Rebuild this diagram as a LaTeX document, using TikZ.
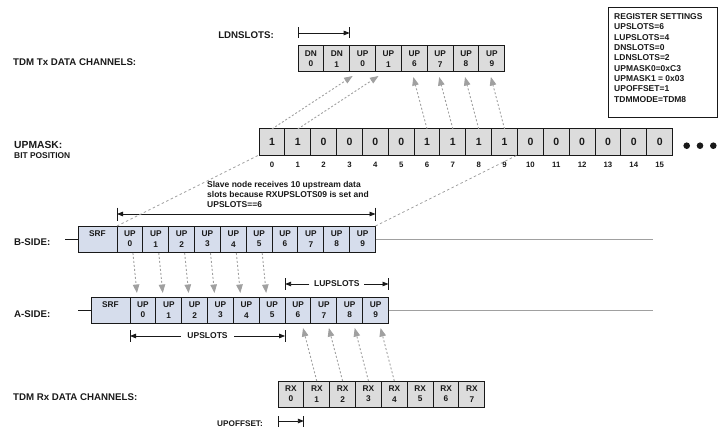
\documentclass[tikz,border=0pt]{standalone}
\usepackage{fontspec}
\setmainfont{Liberation Sans}
\usetikzlibrary{arrows.meta,calc}
\definecolor{boxgray}{RGB}{220,220,220}
\definecolor{boxblue}{RGB}{214,221,236}
\definecolor{dgray}{RGB}{160,160,160}
\definecolor{lgray}{RGB}{160,160,160}
\definecolor{ink}{RGB}{25,25,25}
\begin{document}
\begin{tikzpicture}[x=1pt,y=-1pt,
  cell/.style={draw=ink,line width=1pt,minimum width=25.85pt,minimum height=26pt,inner sep=0pt,outer sep=0pt,align=center,font=\fontsize{8.3}{10.3}\selectfont\bfseries,text=ink},
  graycell/.style={cell,fill=boxgray},
  bluecell/.style={cell,fill=boxblue},
  bitcell/.style={cell,fill=boxgray,font=\fontsize{10.5}{12}\selectfont\bfseries},
  lbl/.style={font=\fontsize{9.7}{11}\selectfont\bfseries,text=ink,inner sep=0pt},
  small/.style={font=\fontsize{8.5}{10.33}\selectfont\bfseries,text=ink,inner sep=0pt},
  bitnum/.style={font=\fontsize{7.8}{8}\selectfont\bfseries,text=ink,inner sep=0pt},
  dasharrow/.style={draw=dgray,line width=0.9pt,dash pattern=on 2pt off 2pt,-{Triangle[length=8.5pt,width=6.5pt]}},
  dashline/.style={draw=dgray,line width=0.8pt,dash pattern=on 2.5pt off 2.5pt},
  dimline/.style={draw=ink,line width=0.8pt},
  dimarrow/.style={dimline,-{Triangle[length=6pt,width=4.5pt]}},
  dimboth/.style={dimline,{Triangle[length=6pt,width=4.5pt]}-{Triangle[length=6pt,width=4.5pt]}},
  dimbar/.style={draw=ink,line width=1pt},
  sideline/.style={draw=lgray,line width=1pt},
  stubline/.style={draw=ink,line width=0.9pt},
]
\useasboundingbox (0,0) rectangle (725,433);

% ---------- TDM Tx row ----------
\foreach \a/\b [count=\i from 0] in {DN/0,DN/1,UP/0,UP/1,UP/6,UP/7,UP/8,UP/9}
  \node[graycell] (tx\i) at ({298+25.85*(\i+0.5)},59) {\a\\\b};

% ---------- UPMASK row ----------
\foreach \v [count=\i from 0] in {1,1,0,0,0,0,1,1,1,1,0,0,0,0,0,0} {
  \node[bitcell] (m\i) at ({259+25.85*(\i+0.5)},142) {\v};
  \node[bitnum] (bp\i) at ({259+25.85*(\i+0.5)},165) {\i};
}
\fill[ink] (686.7,145.7) circle (3.3);
\fill[ink] (700,145.7) circle (3.3);
\fill[ink] (713.3,145.7) circle (3.3);

% ---------- B-side row ----------
\node[bluecell,minimum width=39pt] (bsrf) at (97.5,239) {SRF\\\phantom{0}};
\foreach \i in {0,...,9}
  \node[bluecell] (b\i) at ({117+25.85*(\i+0.5)},239) {UP\\\i};

% ---------- A-side row ----------
\node[bluecell,minimum width=39pt] (asrf) at (110.5,310) {SRF\\\phantom{0}};
\foreach \i in {0,...,9}
  \node[bluecell] (a\i) at ({130+25.85*(\i+0.5)},310) {UP\\\i};

% ---------- TDM Rx row ----------
\foreach \i in {0,...,7}
  \node[graycell] (rx\i) at ({278+25.85*(\i+0.5)},394) {RX\\\i};

% ---------- side lines ----------
\coordinate (bstart) at (65,239);
\coordinate (bend) at (653,239);
\coordinate (astart) at (78,310);
\coordinate (aend) at (653,310);
\draw[stubline] (bstart) -- (bsrf.west);
\draw[sideline] (b9.east) -- (bend);
\draw[stubline] (astart) -- (asrf.west);
\draw[sideline] (a9.east) -- (aend);

% ---------- left labels ----------
\node[lbl,anchor=west] (txlbl) at (13,62) {TDM Tx DATA CHANNELS:};
\node[lbl,anchor=east] (ldnlbl) at (274,35.5) {LDNSLOTS:};
\node[lbl,anchor=west,font=\fontsize{10.3}{12}\selectfont\bfseries] (umlbl) at (14,145) {UPMASK:};
\node[lbl,anchor=west,font=\fontsize{8.4}{10}\selectfont\bfseries] (bplbl) at (14,156) {BIT POSITION};
\node[lbl,anchor=west] (bslbl) at (14,242.5) {B-SIDE:};
\node[lbl,anchor=west] (aslbl) at (14,314) {A-SIDE:};
\node[lbl,anchor=west] (rxlbl) at (13,397) {TDM Rx DATA CHANNELS:};
\node[small,anchor=east,font=\fontsize{8.2}{9}\selectfont\bfseries] (uolbl) at (263,423.5) {UPOFFSET:};

% ---------- register box ----------
\node[draw=ink,line width=1.2pt,anchor=north west,minimum width=109pt,minimum height=110pt,inner sep=0pt] (reg) at (608,7) {};
\node[small,anchor=north west,align=left] (regtxt) at (614,13.5) {REGISTER SETTINGS\\UPSLOTS=6\\LUPSLOTS=4\\DNSLOTS=0\\LDNSLOTS=2\\UPMASK0=0xC3\\UPMASK1 = 0x03\\UPOFFSET=1\\TDMMODE=TDM8};

% ---------- slave note ----------
\node[small,anchor=north west,align=left,font=\fontsize{8.5}{10.2}\selectfont\bfseries] (slave) at (207,181) {Slave node receives 10 upstream data\\slots because RXUPSLOTS09 is set and\\UPSLOTS==6};

% ---------- dimension: LDNSLOTS ----------
\coordinate (ld1) at ($(tx0.north west)+(0,-13)$);
\coordinate (ld2) at ($(tx1.north east)+(0,-13)$);
\draw[dimbar] ($(ld1)+(0,-5.5)$) -- ($(ld1)+(0,5.5)$);
\draw[dimbar] ($(ld2)+(0,-5.5)$) -- ($(ld2)+(0,5.5)$);
\draw[dimarrow] (ld1) -- (ld2);

% ---------- dimension: slave span ----------
\coordinate (sv1) at ($(b0.north west)+(0,-12)$);
\coordinate (sv2) at ($(b9.north east)+(0,-12)$);
\draw[dimbar] ($(sv1)+(0,-6.5)$) -- ($(sv1)+(0,6.5)$);
\draw[dimbar] ($(sv2)+(0,-6.5)$) -- ($(sv2)+(0,6.5)$);
\draw[dimboth] (sv1) -- (sv2);

% ---------- dimension: LUPSLOTS ----------
\coordinate (lu1) at ($(a6.north west)+(0,-13)$);
\coordinate (lu2) at ($(a9.north east)+(0,-13)$);
\draw[dimbar] ($(lu1)+(0,-6)$) -- ($(lu1)+(0,6)$);
\draw[dimbar] ($(lu2)+(0,-6)$) -- ($(lu2)+(0,6)$);
\node[small,inner xsep=4.5pt] (lulbl) at ($(lu1)!0.5!(lu2)$) {LUPSLOTS};
\draw[dimarrow] (lulbl.west) -- (lu1);
\draw[dimarrow] (lulbl.east) -- (lu2);

% ---------- dimension: UPSLOTS ----------
\coordinate (us1) at ($(a0.south west)+(0,13)$);
\coordinate (us2) at ($(a6.south west)+(0,13)$);
\draw[dimbar] ($(us1)+(0,-6)$) -- ($(us1)+(0,6)$);
\draw[dimbar] ($(us2)+(0,-6)$) -- ($(us2)+(0,6)$);
\node[small,inner xsep=6.5pt] (uslbl) at ($(us1)!0.5!(us2)$) {UPSLOTS};
\draw[dimarrow] (uslbl.west) -- (us1);
\draw[dimarrow] (uslbl.east) -- (us2);

% ---------- dimension: UPOFFSET ----------
\coordinate (uo1) at ($(rx0.south west)+(0,14)$);
\coordinate (uo2) at ($(rx1.south west)+(0,14)$);
\draw[dimbar] ($(uo1)+(0,-5)$) -- ($(uo1)+(0,6)$);
\draw[dimbar] ($(uo2)+(0,-5)$) -- ($(uo2)+(0,6)$);
\draw[dimarrow] (uo1) -- (uo2);

% ---------- dashed connectors ----------
\draw[dasharrow] (m0.north) -- ($(tx2.south)+(-10,4)$);
\draw[dasharrow] (m1.north) -- ($(tx3.south)+(-10,4)$);
\foreach \i [evaluate=\i as \j using int(\i-2)] in {6,7,8,9}
  \draw[dasharrow] (m\i.north) -- ($(tx\j.south)+(-1,5)$);

\draw[dashline] (b0.north west) -- (m0.south west);
\draw[dashline] (b9.north east) -- (m9.south east);

\foreach \i in {0,...,5}
  \draw[dasharrow] ($(b\i.south)+(3,1)$) -- ($(a\i.north)+(-6,-4)$);

\foreach \i [evaluate=\i as \j using int(\i+5)] in {1,2,3,4}
  \draw[dasharrow] (rx\i.north) -- ($(a\j.south)+(5,5)$);

\end{tikzpicture}
\end{document}
